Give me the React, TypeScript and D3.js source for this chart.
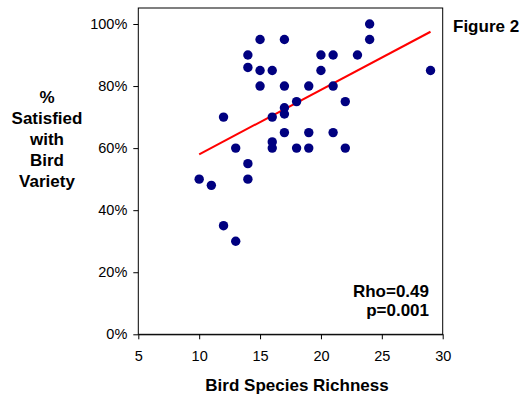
import React, { useRef, useEffect } from 'react';
import * as d3 from 'd3';

// bird species richness per site
const richness = [
  10, 11, 12, 12, 13, 13, 14, 14, 14, 14, 15, 15, 15, 16, 16, 16, 16, 17, 17,
  17, 17, 17, 18, 18, 19, 19, 19, 20, 20, 21, 21, 21, 22, 22, 23, 24, 24, 29,
];
// % satisfied with bird variety
const satisfied = [
  50, 48, 70, 35, 60, 30, 90, 86, 55, 50, 95, 85, 80, 85, 70, 62, 60, 95, 80,
  73, 71, 65, 75, 60, 80, 65, 60, 90, 85, 90, 80, 65, 75, 60, 90, 100, 95, 85,
];
const trendX = [10, 29];
const trendY = [58, 97.5];
const xTicks = [5, 10, 15, 20, 25, 30];
const yTicks = [0, 20, 40, 60, 80, 100];
const yTitle = ['%', 'Satisfied', 'with', 'Bird', 'Variety'];
const statLines = ['Rho=0.49', 'p=0.001'];

function App() {
  const svgRef = useRef<SVGSVGElement>(null);

  useEffect(() => {
    const width = 522;
    const height = 394;
    const left = 138.3;
    const right = 442.7;
    const top = 8;
    const bottom = 334.3;
    const font = 'Arial, "Liberation Sans", sans-serif';

    const x = d3.scaleLinear().domain([5, 30]).range([left, right]);
    const y = d3.scaleLinear().domain([0, 100]).range([bottom, 24]);

    const svg = d3.select(svgRef.current);
    svg.selectAll('*').remove();
    svg.attr('width', width).attr('height', height)
      .attr('viewBox', [0, 0, width, height])
      .style('font-family', font);

    // plot box
    svg.append('rect')
      .attr('x', left).attr('y', top)
      .attr('width', right - left).attr('height', bottom - top)
      .attr('fill', 'white').attr('stroke', '#000').attr('stroke-width', 1);

    // x axis
    const gx = svg.append('g')
      .attr('transform', `translate(0,${bottom})`)
      .call(d3.axisBottom(x).tickValues(xTicks).tickSize(5).tickPadding(11).tickSizeOuter(0));
    gx.select('.domain').attr('stroke', '#000');
    gx.selectAll('text').attr('font-size', 14.5).attr('fill', '#000').attr('font-family', font);

    // y axis
    const gy = svg.append('g')
      .attr('transform', `translate(${left},0)`)
      .call(d3.axisLeft(y).tickValues(yTicks).tickFormat(d => `${d}%`).tickSize(5).tickPadding(6).tickSizeOuter(0));
    gy.select('.domain').remove();
    gy.selectAll('text').attr('font-size', 14.5).attr('fill', '#000').attr('font-family', font);

    // trend line
    svg.append('line')
      .attr('x1', x(trendX[0])).attr('y1', y(trendY[0]))
      .attr('x2', x(trendX[1])).attr('y2', y(trendY[1]))
      .attr('stroke', '#ff0000').attr('stroke-width', 2);

    // points
    svg.append('g')
      .attr('fill', '#000080')
      .selectAll('circle')
      .data(richness.map((r, i) => ({ r, s: satisfied[i] })))
      .join('circle')
      .attr('cx', d => x(d.r))
      .attr('cy', d => y(d.s))
      .attr('r', 4.7);

    // titles
    svg.append('text')
      .attr('x', 297).attr('y', 391)
      .attr('text-anchor', 'middle')
      .attr('font-size', 17).attr('font-weight', 'bold')
      .text('Bird Species Richness');

    svg.append('g')
      .attr('font-size', 17).attr('font-weight', 'bold')
      .attr('text-anchor', 'middle')
      .selectAll('text')
      .data(yTitle)
      .join('text')
      .attr('x', 47)
      .attr('y', (d, i) => 103 + i * 21)
      .text(d => d);

    svg.append('text')
      .attr('x', 453).attr('y', 32)
      .attr('font-size', 17).attr('font-weight', 'bold')
      .text('Figure 2');

    svg.append('g')
      .attr('font-size', 17).attr('font-weight', 'bold')
      .attr('text-anchor', 'end')
      .selectAll('text')
      .data(statLines)
      .join('text')
      .attr('x', 429)
      .attr('y', (d, i) => 296.5 + i * 19)
      .text(d => d);
  }, []);

  return (
    <div style={{ position: 'absolute', left: 0, top: 0 }}>
      <svg ref={svgRef} style={{ display: 'block' }}></svg>
    </div>
  );
}

export default App;
